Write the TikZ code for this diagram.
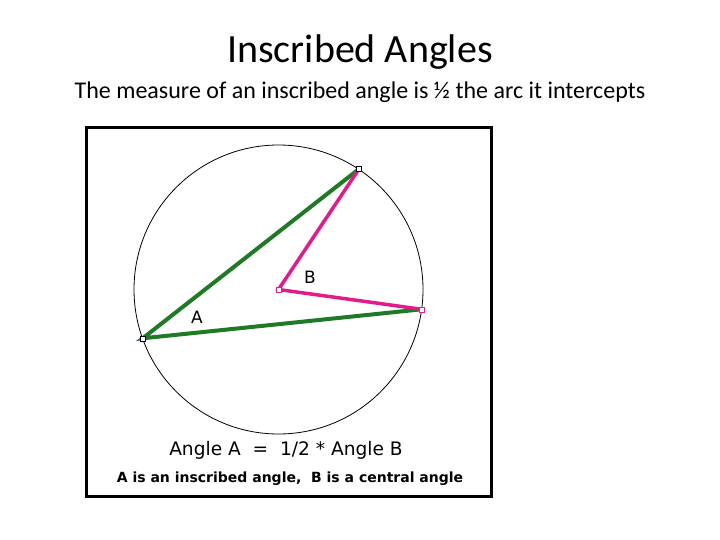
\documentclass[tikz,border=0pt]{standalone}
\usepackage{fontspec}
\setmainfont{Carlito}
\newfontfamily\diagfont{DejaVu Sans}
\usepackage{tikz}
\usetikzlibrary{positioning}
\definecolor{chordgreen}{RGB}{30,122,36}
\definecolor{radiuspink}{RGB}{226,26,138}

\begin{document}
\begin{tikzpicture}[x=1pt, y=-1pt,
    chord style/.style={draw=chordgreen, line width=4pt, line join=miter},
    radius style/.style={draw=radiuspink, line width=3.5pt, line join=miter},
    point style/.style={rectangle, draw, fill=white, inner sep=0pt, minimum size=5pt, line width=0.6pt},
    letter style/.style={font=\diagfont\fontsize{17}{20}\selectfont},
    text style/.style={font=\diagfont\fontsize{#1}{#1}\selectfont, inner sep=0pt}
]
\useasboundingbox (0,0) rectangle (720,540);

\node (title) at (360,52) {\fontsize{40}{44}\selectfont Inscribed Angles};
\node (subtitle) at (360,92) {\fontsize{24}{28}\selectfont The measure of an inscribed angle is ½ the arc it intercepts};

\draw[line width=3pt] (86,128) rectangle (491,496);

\coordinate (ctr) at (278.5,289.5);
\coordinate (top) at (359,169);
\coordinate (vA) at (142.7,338.3);
\coordinate (right) at (421.7,309.3);

\draw[line width=0.8pt] (ctr) circle (144.5pt);

% inscribed angle A
\draw[chord style] (top) -- (vA) -- (right);
% central angle B
\draw[radius style] (top) -- (ctr) -- (right);

\node[point style] (ptop) at (top) {};
\node[point style] (pA) at (vA) {};
\node[point style, draw=radiuspink] (pctr) at (ctr) {};
\node[point style, draw=radiuspink] (pright) at (right) {};

\node[letter style] (labA) at (197,317) {A};
\node[letter style] (labB) at (310,277) {B};

\node[text style=18.6] (rule) at (286,450) {Angle A \ = \ 1/2 * Angle B};
\node[text style=14, font=\diagfont\bfseries\fontsize{14}{14}\selectfont] (note) at (290,479) {A is an inscribed angle, \ B is a central angle};
\end{tikzpicture}
\end{document}
